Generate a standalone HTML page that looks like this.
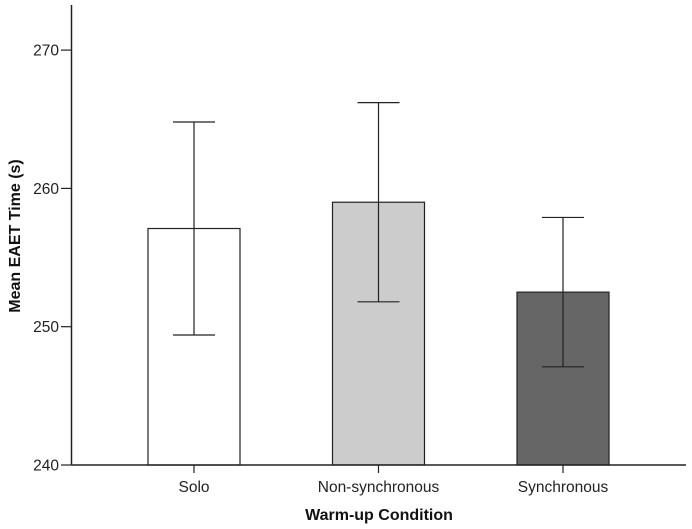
<!DOCTYPE html>
<html><head><meta charset="utf-8"><style>
body{margin:0;background:#fff}
svg{display:block;font-family:"Liberation Sans",Arial,sans-serif}
</style></head><body>
<svg id="chart" width="692" height="529"></svg>
<script>
const categories=["Solo","Non-synchronous","Synchronous"];
const means=[257.1,259.0,252.5];
const errLow=[249.4,251.8,247.1];
const errHigh=[264.8,266.2,257.9];
const fills=["#ffffff","#cccccc","#666666"];
const yTicks=[240,250,260,270];
const NS="http://www.w3.org/2000/svg";
const svg=document.getElementById('chart');
const y0=465,yPer=13.83,axX=71.5;
const yS=v=>y0-(v-240)*yPer;
const xC=i=>194+i*184.5;
function mk(t,a,p){const e=document.createElementNS(NS,t);for(const k in a)e.setAttribute(k,a[k]);(p||svg).appendChild(e);return e;}
categories.forEach((c,i)=>{
 const b=mk('rect',{x:xC(i)-46,y:yS(means[i]),width:92,height:y0-yS(means[i]),fill:fills[i],stroke:'#222','stroke-width':1.2});
 
 
 const g=mk('g',{stroke:'#222','stroke-width':1.2});
 
 
 mk('line',{x1:xC(i),x2:xC(i),y1:yS(errHigh[i]),y2:yS(errLow[i])},g);
 mk('line',{x1:xC(i)-21,x2:xC(i)+21,y1:yS(errHigh[i]),y2:yS(errHigh[i])},g);
 mk('line',{x1:xC(i)-21,x2:xC(i)+21,y1:yS(errLow[i]),y2:yS(errLow[i])},g);
 mk('line',{x1:xC(i),x2:xC(i),y1:y0,y2:y0+8,stroke:'#222','stroke-width':1.2});
 const t=mk('text',{x:xC(i),y:y0+27,'text-anchor':'middle','font-size':15.5,fill:'#222'});
 t.textContent=c;
 
 
});
const ya=mk('line',{x1:axX,x2:axX,y1:5,y2:y0,stroke:'#222','stroke-width':1.5});


const xa=mk('line',{x1:axX,x2:686,y1:y0,y2:y0,stroke:'#222','stroke-width':1.5});


yTicks.forEach(v=>{
 mk('line',{x1:61,x2:axX,y1:yS(v),y2:yS(v),stroke:'#222','stroke-width':1.2});
 const t=mk('text',{x:59,y:yS(v)+5.5,'text-anchor':'end','font-size':15.5,fill:'#222'});
 t.textContent=v;
 
 
});
const yt=mk('text',{x:0,y:0,transform:'translate(20,236) rotate(-90)','text-anchor':'middle','font-size':16,'font-weight':'bold',fill:'#111'});
yt.textContent='Mean EAET Time (s)';


const xt=mk('text',{x:379,y:520,'text-anchor':'middle','font-size':16,'font-weight':'bold',fill:'#111'});
xt.textContent='Warm-up Condition';


</script>
</body></html>
